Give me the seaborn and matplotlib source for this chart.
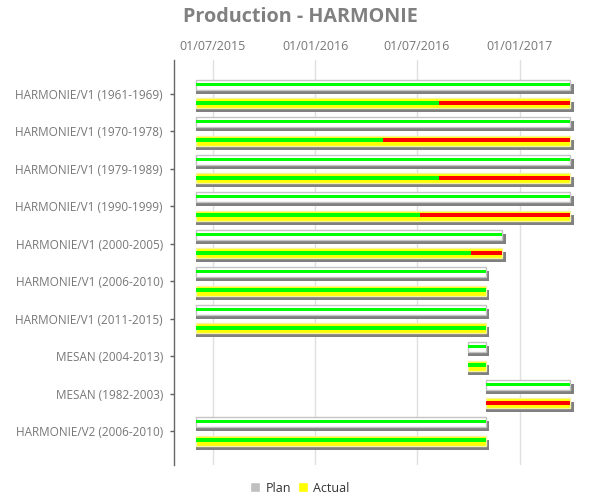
"""
Production - HARMONIE: plan vs actual gantt chart.
"""

import datetime as dt
import matplotlib
matplotlib.use("Agg")
import matplotlib.pyplot as plt
import matplotlib.dates as mdates
from matplotlib.patches import Patch
import seaborn as sns

# ── Data ───────────────────────────────────────────────────────────────────────
categories = [
    "HARMONIE/V1 (1961-1969)",
    "HARMONIE/V1 (1970-1978)",
    "HARMONIE/V1 (1979-1989)",
    "HARMONIE/V1 (1990-1999)",
    "HARMONIE/V1 (2000-2005)",
    "HARMONIE/V1 (2006-2010)",
    "HARMONIE/V1 (2011-2015)",
    "MESAN (2004-2013)",
    "MESAN (1982-2003)",
    "HARMONIE/V2 (2006-2010)",
]
plan_start = ["2015-06-01"] * 7 + ["2016-10-01", "2016-11-01", "2015-06-01"]
plan_end = ["2017-04-01"] * 4 + ["2016-12-01", "2016-11-01", "2016-11-01",
                                 "2016-11-01", "2017-04-01", "2016-11-01"]
actual_start = ["2015-06-01"] * 7 + ["2016-10-01", "2016-11-01", "2015-06-01"]
actual_end = ["2017-04-01"] * 4 + ["2016-12-01", "2016-11-01", "2016-11-01",
                                   "2016-11-01", "2017-04-01", "2016-11-01"]
# date from which the actual progress stripe turns red (None = all green)
late_from = ["2016-08-10", "2016-05-01", "2016-08-10", "2016-07-07", "2016-10-06",
             None, None, None, "2016-11-01", None]
tick_dates = ["2015-07-01", "2016-01-01", "2016-07-01", "2017-01-01"]

# ── Style ──────────────────────────────────────────────────────────────────────
GREY_TXT = "#777777"
GREEN = "#00ff00"
RED = "#ff0000"
YELLOW = "#ffff00"
SHADOW = "#808080"
PLAN_EDGE = "#c4c4c4"
U = 1 / 37.5          # one pixel in category units
SHADOW_DAYS = 7       # shadow x-offset (~4 px)

sns.set_style("white")
plt.rcParams["font.family"] = ["Open Sans", "DejaVu Sans"]


def d(s):
    return mdates.date2num(dt.datetime.strptime(s, "%Y-%m-%d"))


fig = plt.figure(figsize=(6, 5), dpi=100)
ax = fig.add_axes([174 / 600, 35 / 500, 416 / 600, 405 / 500])

for i in range(len(categories)):
    ps, pe = d(plan_start[i]), d(plan_end[i])
    as_, ae = d(actual_start[i]), d(actual_end[i])

    # Plan bar
    ax.barh(i - 4.7 * U, pe - ps + SHADOW_DAYS, left=ps, height=10 * U,
            color=SHADOW, linewidth=0, zorder=2)
    ax.barh(i - 8.7 * U, pe - ps, left=ps, height=10 * U,
            color="white", edgecolor=PLAN_EDGE, linewidth=1, zorder=3)
    ax.barh(i - 9.2 * U, pe - ps, left=ps, height=3 * U,
            color=GREEN, linewidth=0, zorder=4)

    # Actual bar
    ax.barh(i + 13.8 * U, ae - as_ + SHADOW_DAYS, left=as_, height=10 * U,
            color=SHADOW, linewidth=0, zorder=2)
    ax.barh(i + 9.8 * U, ae - as_, left=as_, height=10 * U,
            color=YELLOW, edgecolor="#f4f4a0", linewidth=1, zorder=3)
    split = d(late_from[i]) if late_from[i] else ae
    if split > as_:
        ax.barh(i + 9.3 * U, split - as_, left=as_, height=4 * U,
                color=GREEN, linewidth=0, zorder=4)
    if split < ae:
        ax.barh(i + 9.3 * U, ae - split, left=split, height=4 * U,
                color=RED, linewidth=0, zorder=4)

# ── Axes ───────────────────────────────────────────────────────────────────────
ax.set_xlim(d("2015-04-23"), d("2017-05-07"))
ax.set_ylim(9.907, -0.899)
ax.set_yticks(range(len(categories)))
ax.set_yticklabels(categories, fontsize=8.5, color=GREY_TXT)
ax.set_xticks([d(t) for t in tick_dates])
ax.xaxis.set_major_formatter(mdates.DateFormatter("%d/%m/%Y"))
ax.xaxis.tick_top()
ax.tick_params(axis="x", length=0, pad=5, labelsize=9, labelcolor=GREY_TXT)
ax.tick_params(axis="y", length=3, width=1, color="#606060", pad=5, left=True)
for t in tick_dates:
    ax.axvline(d(t), color="#e0e0e0", linewidth=1, zorder=1)
for side in ["top", "right", "bottom"]:
    ax.spines[side].set_visible(False)
ax.spines["left"].set_color("#666666")
ax.spines["left"].set_linewidth(1)

fig.text(0.5, 0.966, "Production - HARMONIE", ha="center", va="center",
         fontsize=14.2, fontweight="bold", color="#808080")

handles = [Patch(facecolor="#c0c0c0", label="Plan"),
           Patch(facecolor=YELLOW, label="Actual")]
fig.legend(handles=handles, loc="center", bbox_to_anchor=(0.5, 0.024), ncol=2,
           frameon=False, fontsize=9, handlelength=0.8, handleheight=0.8,
           handletextpad=0.4, columnspacing=0.6, labelcolor="#333333")

plt.savefig("out.png", dpi=100)
plt.close()
